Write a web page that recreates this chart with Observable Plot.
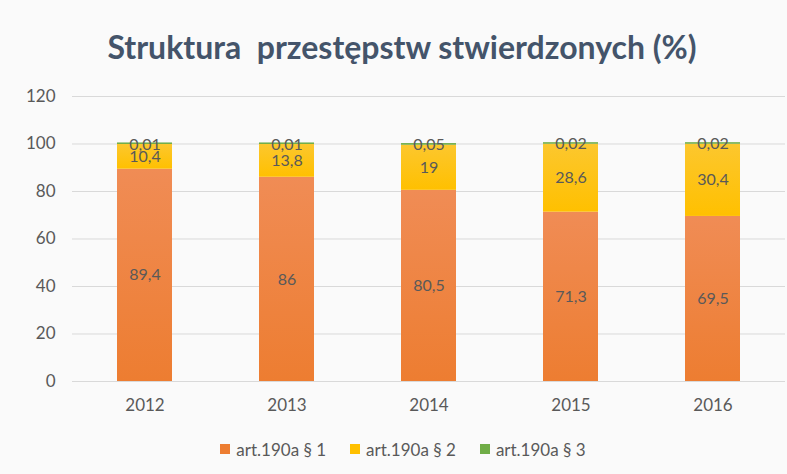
<!DOCTYPE html>
<html><head><meta charset="utf-8">
<script src="https://cdn.jsdelivr.net/npm/d3@7"></script>
<script src="https://cdn.jsdelivr.net/npm/@observablehq/plot@0.6"></script>
<style>
body{margin:0;background:#fafafa;width:787px;height:474px;position:relative;overflow:hidden;font-family:Lato,"Open Sans",sans-serif}
#title{position:absolute;left:17px;width:770px;top:27px;text-align:center;font-size:32px;font-weight:700;color:#44546a;line-height:40px;white-space:pre}
#chart{position:absolute;left:0;top:80px}
#legend{position:absolute;left:23px;width:760px;top:438px;height:22px;display:flex;justify-content:center;align-items:center;font-size:17px;color:#595959}
#legend .it{display:flex;align-items:center;margin:0 12px}
#legend .sw{width:10px;height:10px;margin-right:6px}
</style></head>
<body>
<div id="title">Struktura  przestępstw stwierdzonych (%)</div>
<div id="chart"></div>
<div id="legend"></div>
<script>
const years = ["2012","2013","2014","2015","2016"];
const series = ["art.190a § 1","art.190a § 2","art.190a § 3"];
const s1 = [89.4, 86, 80.5, 71.3, 69.5];
const s2 = [10.4, 13.8, 19, 28.6, 30.4];
const s3 = [0.01, 0.01, 0.05, 0.02, 0.02];
const yTicks = [0, 20, 40, 60, 80, 100, 120];
const colors = ["#ed7d31", "#ffc000", "#70ad47"];
const colorsTop = ["#f08c55", "#fcc72e", "#70ad47"];

const values = [s1, s2, s3];
const rows = [];
years.forEach((y, i) => {
  series.forEach((s, k) => rows.push({year: y, series: s, value: values[k][i]}));
});
const fmt = v => String(v).replace(".", ",");

const svg = Plot.plot({
  width: 787,
  height: 340,
  marginLeft: 72,
  marginRight: 2,
  marginTop: 16,
  marginBottom: 39,
  style: {background: "transparent", fontFamily: "Lato, 'Open Sans', sans-serif"},
  x: {domain: years, paddingInner: 0.614, paddingOuter: 0.307, label: null},
  y: {domain: [0, 120], label: null},
  color: {domain: series, range: ["url(#g0)", "url(#g1)", "url(#g2)"]},
  opacity: {type: "identity"},
  marks: [
    Plot.gridY(yTicks, {stroke: "#d9d9d9", strokeOpacity: 1}),
    Plot.axisY(yTicks, {tickSize: 0, tickPadding: 17, fontSize: 17, fill: "#595959", label: null}),
    Plot.axisX({tickSize: 0, tickPadding: 17, fontSize: 17, fill: "#595959", label: null}),
    Plot.barY(rows, Plot.stackY({x: "year", y: "value", fill: "series", order: series})),
    Plot.barY(rows, Plot.stackY({x: "year", y: "value", fill: "series", order: series,
      fillOpacity: d => d.series === series[2] ? 1 : 0, insetTop: -1.5})),
    Plot.text(rows, Plot.stackY({x: "year", y: "value", z: "series", order: series, text: d => fmt(d.value), fill: "#595959", fontSize: 16}))
  ]
});

const defs = d3.select(svg).insert("defs", ":first-child");
colors.forEach((c, k) => {
  const g = defs.append("linearGradient").attr("id", "g" + k).attr("x1", 0).attr("y1", 0).attr("x2", 0).attr("y2", 1);
  g.append("stop").attr("offset", "0%").attr("stop-color", colorsTop[k]);
  g.append("stop").attr("offset", "100%").attr("stop-color", c);
});
document.getElementById("chart").appendChild(svg);

const leg = d3.select("#legend");
series.forEach((s, k) => {
  const it = leg.append("div").attr("class", "it");
  it.append("div").attr("class", "sw").style("background", colors[k]);
  it.append("span").text(s);
});
</script>
</body></html>
